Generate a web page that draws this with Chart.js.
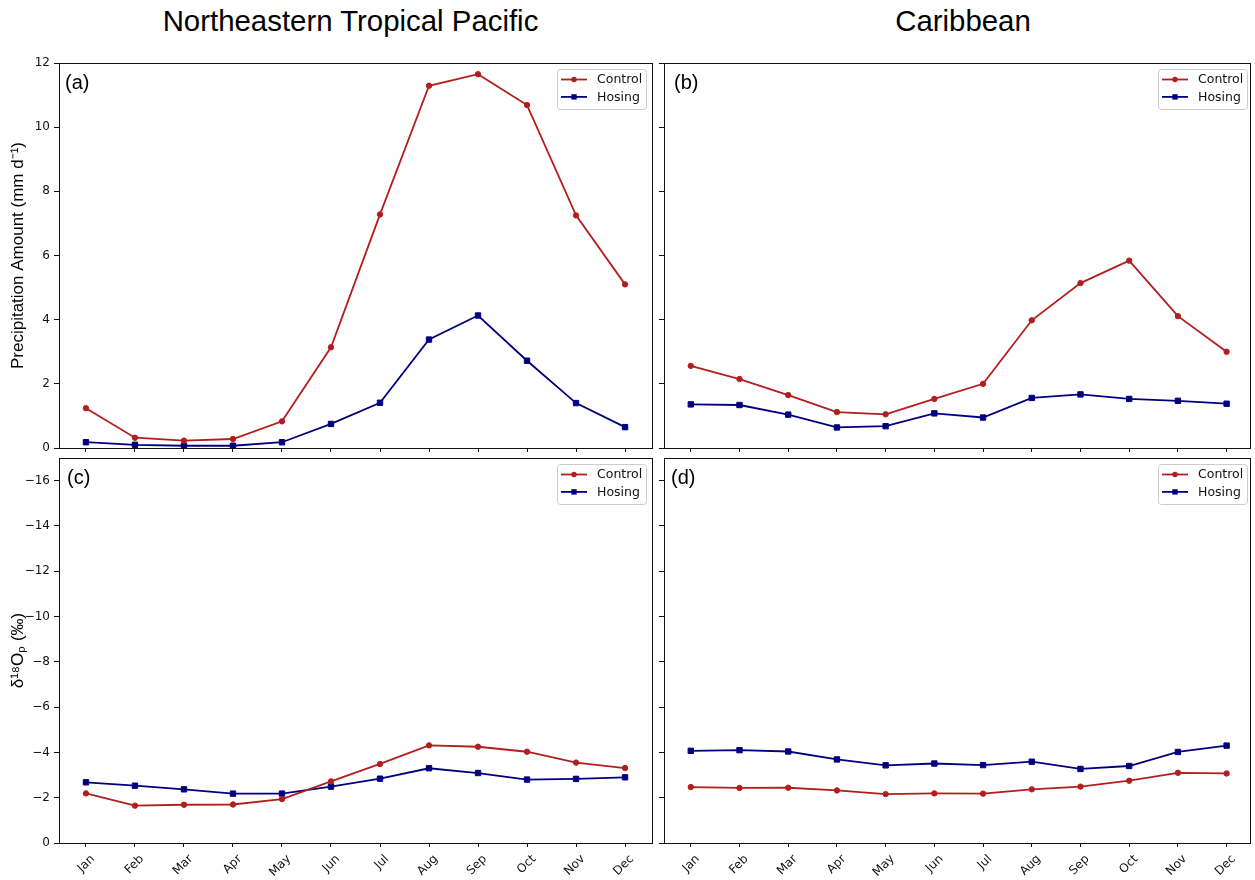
<!DOCTYPE html>
<html>
<head>
<meta charset="utf-8">
<script src="https://cdn.jsdelivr.net/npm/chart.js@4.4.0/dist/chart.umd.min.js"></script>
<style>
    body { margin: 0; background: #fff; }
    #stage { position: relative; width: 1255px; height: 880px; overflow: hidden; }
    #stage canvas { position: absolute; left: 0; top: 0; pointer-events: none; }
    .col-title {
        position: absolute; top: 6px; transform: translateX(-50%);
        font-family: "Liberation Sans", Arial, sans-serif; font-size: 29.4px;
        line-height: 1; color: #000; white-space: nowrap;
    }
</style>
</head>
<body>
<div id="stage">
    <div class="col-title" style="left:350.5px">Northeastern Tropical Pacific</div>
    <div class="col-title" style="left:963px">Caribbean</div>
    <canvas id="panelA" width="1255" height="880"></canvas>
    <canvas id="panelB" width="1255" height="880"></canvas>
    <canvas id="panelC" width="1255" height="880"></canvas>
    <canvas id="panelD" width="1255" height="880"></canvas>
</div>

<script>
// ======================================
// Data
// ======================================
const months = ["Jan", "Feb", "Mar", "Apr", "May", "Jun", "Jul", "Aug", "Sep", "Oct", "Nov", "Dec"];
const precipTicks = [0, 2, 4, 6, 8, 10, 12];
const isotopeTicks = [0, -2, -4, -6, -8, -10, -12, -14, -16];

// Northeastern Tropical Pacific, precipitation (mm/d)
const ntpPrecipControl = [1.24, 0.32, 0.23, 0.28, 0.83, 3.14, 7.28, 11.29, 11.65, 10.69, 7.25, 5.10];
const ntpPrecipHosing = [0.18, 0.10, 0.07, 0.07, 0.18, 0.75, 1.41, 3.38, 4.13, 2.72, 1.40, 0.65];
// Caribbean, precipitation (mm/d)
const carPrecipControl = [2.56, 2.15, 1.65, 1.12, 1.05, 1.53, 2.00, 3.98, 5.14, 5.84, 4.11, 3.00];
const carPrecipHosing = [1.36, 1.34, 1.04, 0.64, 0.68, 1.08, 0.95, 1.56, 1.67, 1.53, 1.47, 1.38];
// Northeastern Tropical Pacific, d18O of precipitation (permil)
const ntpIsoControl = [-2.19, -1.65, -1.69, -1.70, -1.94, -2.72, -3.49, -4.31, -4.25, -4.03, -3.55, -3.31];
const ntpIsoHosing = [-2.68, -2.53, -2.37, -2.18, -2.18, -2.49, -2.84, -3.30, -3.09, -2.80, -2.83, -2.90];
// Caribbean, d18O of precipitation (permil)
const carIsoControl = [-2.47, -2.43, -2.44, -2.32, -2.16, -2.19, -2.18, -2.37, -2.49, -2.75, -3.10, -3.07];
const carIsoHosing = [-4.07, -4.10, -4.04, -3.69, -3.43, -3.51, -3.44, -3.59, -3.27, -3.40, -4.02, -4.30];

// ======================================
// Styles
// ======================================
const RED = "#b21e1e";
const NAVY = "#00007f";
const INK = "#111111";
const TICK_FONT = { family: "'DejaVu Sans', sans-serif", size: 12 };

function series(label, values, color, style, radius) {
    return {
        label: label,
        data: values.map((v, i) => ({ x: i, y: v })),
        borderColor: color,
        backgroundColor: color,
        borderWidth: 1.8,
        pointStyle: style,
        pointRadius: radius,
        pointBorderWidth: 1,
        tension: 0
    };
}

function minusLabel(v) {
    return v < 0 ? "\u2212" + Math.abs(v) : String(v);
}

// frame, panel letter and legend box drawn inside the axes
const framePlugin = {
    id: "panelFrame",
    afterDraw(chart, args, opts) {
        const ctx = chart.ctx;
        const a = chart.chartArea;
        ctx.save();

        ctx.strokeStyle = INK;
        ctx.lineWidth = 1;
        ctx.strokeRect(Math.round(a.left) + 0.5, Math.round(a.top) + 0.5,
            Math.round(a.right - a.left), Math.round(a.bottom - a.top));

        ctx.fillStyle = "#000";
        ctx.font = "20px 'Liberation Sans', Arial, sans-serif";
        ctx.textBaseline = "alphabetic";
        ctx.textAlign = "left";
        ctx.fillText(opts.letter, a.left + opts.letterX, a.top + 26);

        // legend
        const w = 89, h = 40;
        const bx = a.right - opts.legendInset - w;
        const by = a.top + 6;
        ctx.beginPath();
        ctx.roundRect(bx + 0.5, by + 0.5, w, h, 3);
        ctx.fillStyle = "rgba(255,255,255,0.8)";
        ctx.fill();
        ctx.strokeStyle = "#cccccc";
        ctx.stroke();

        chart.data.datasets.forEach((ds, i) => {
            const y = by + 10.5 + i * 17.4;
            ctx.strokeStyle = ds.borderColor;
            ctx.lineWidth = ds.borderWidth;
            ctx.beginPath();
            ctx.moveTo(bx + 4, y);
            ctx.lineTo(bx + 30, y);
            ctx.stroke();
            ctx.fillStyle = ds.borderColor;
            ctx.beginPath();
            if (ds.pointStyle === "rect") {
                const s = ds.pointRadius * Math.SQRT1_2;
                ctx.rect(bx + 17 - s, y - s, 2 * s, 2 * s);
            } else {
                ctx.arc(bx + 17, y, ds.pointRadius, 0, Math.PI * 2);
            }
            ctx.fill();
            ctx.fillStyle = INK;
            ctx.font = "12.5px 'DejaVu Sans', sans-serif";
            ctx.textBaseline = "middle";
            ctx.fillText(ds.label, bx + 40, y + 0.5);
        });

        ctx.restore();
    }
};

// ======================================
// Panel factory
// ======================================
function makePanel(canvasId, p) {
    const grid = {
        display: true,
        drawOnChartArea: false,
        drawTicks: true,
        color: INK,
        lineWidth: 1
    };

    return new Chart(document.getElementById(canvasId), {
        type: "line",
        data: {
            datasets: [
                series("Control", p.control, RED, "circle", 2.7),
                series("Hosing", p.hosing, NAVY, "rect", 3.8)
            ]
        },
        options: {
            responsive: false,
            animation: false,
            devicePixelRatio: 1,
            layout: {
                padding: { left: p.padLeft, right: 1255 - p.right, top: p.top, bottom: p.padBottom }
            },
            plugins: {
                legend: { display: false },
                tooltip: { enabled: false },
                panelFrame: { letter: p.letter, letterX: p.letterX, legendInset: p.legendInset }
            },
            scales: {
                x: {
                    type: "linear",
                    min: -0.55,
                    max: p.xMax,
                    afterBuildTicks: s => { s.ticks = months.map((m, i) => ({ value: i })); },
                    afterFit: s => { s.height = p.xHeight; },
                    border: { display: false },
                    grid: Object.assign({}, grid, { tickLength: 4 }),
                    ticks: {
                        display: p.xLabels,
                        autoSkip: false,
                        minRotation: 45,
                        maxRotation: 45,
                        labelOffset: 7,
                        padding: 5,
                        color: INK,
                        font: TICK_FONT,
                        callback: v => months[v]
                    }
                },
                y: {
                    min: p.yMin,
                    max: p.yMax,
                    reverse: p.reverse,
                    afterBuildTicks: s => { s.ticks = p.yTicks.map(v => ({ value: v })); },
                    afterFit: s => { s.width = p.yWidth; },
                    border: { display: false },
                    grid: Object.assign({}, grid, { tickLength: 5 }),
                    ticks: {
                        display: p.yLabels,
                        padding: 4,
                        color: INK,
                        font: TICK_FONT,
                        callback: v => minusLabel(v)
                    },
                    title: {
                        display: !!p.yTitle,
                        text: p.yTitle || "",
                        color: "#000",
                        padding: { top: 8, bottom: 0 },
                        font: { family: "'Liberation Sans', Arial, sans-serif", size: 17 }
                    }
                }
            }
        },
        plugins: [framePlugin]
    });
}

const left = { padLeft: 0, yWidth: 59, right: 652, xMax: 11.55, yLabels: true, legendInset: 6 };
const rightSide = { padLeft: 658, yWidth: 6, right: 1254, xMax: 11.48, yLabels: false, legendInset: 3 };
const topRow = { top: 63, xHeight: 6, padBottom: 426, xLabels: false,
    yMin: 0, yMax: 12, reverse: false, yTicks: precipTicks };
const bottomRow = { top: 458, xHeight: 37, padBottom: 0, xLabels: true,
    yMin: -17, yMax: 0, reverse: true, yTicks: isotopeTicks };

makePanel("panelA", Object.assign({}, left, topRow, {
    control: ntpPrecipControl, hosing: ntpPrecipHosing, letter: "(a)", letterX: 6,
    yTitle: "Precipitation Amount (mm d\u207B\u00B9)"
}));
makePanel("panelB", Object.assign({}, rightSide, topRow, {
    control: carPrecipControl, hosing: carPrecipHosing, letter: "(b)", letterX: 10
}));
makePanel("panelC", Object.assign({}, left, bottomRow, {
    control: ntpIsoControl, hosing: ntpIsoHosing, letter: "(c)", letterX: 8,
    yTitle: "\u03B4\u00B9\u2078O\u209A (\u2030)"
}));
makePanel("panelD", Object.assign({}, rightSide, bottomRow, {
    control: carIsoControl, hosing: carIsoHosing, letter: "(d)", letterX: 7
}));
</script>
</body>
</html>
